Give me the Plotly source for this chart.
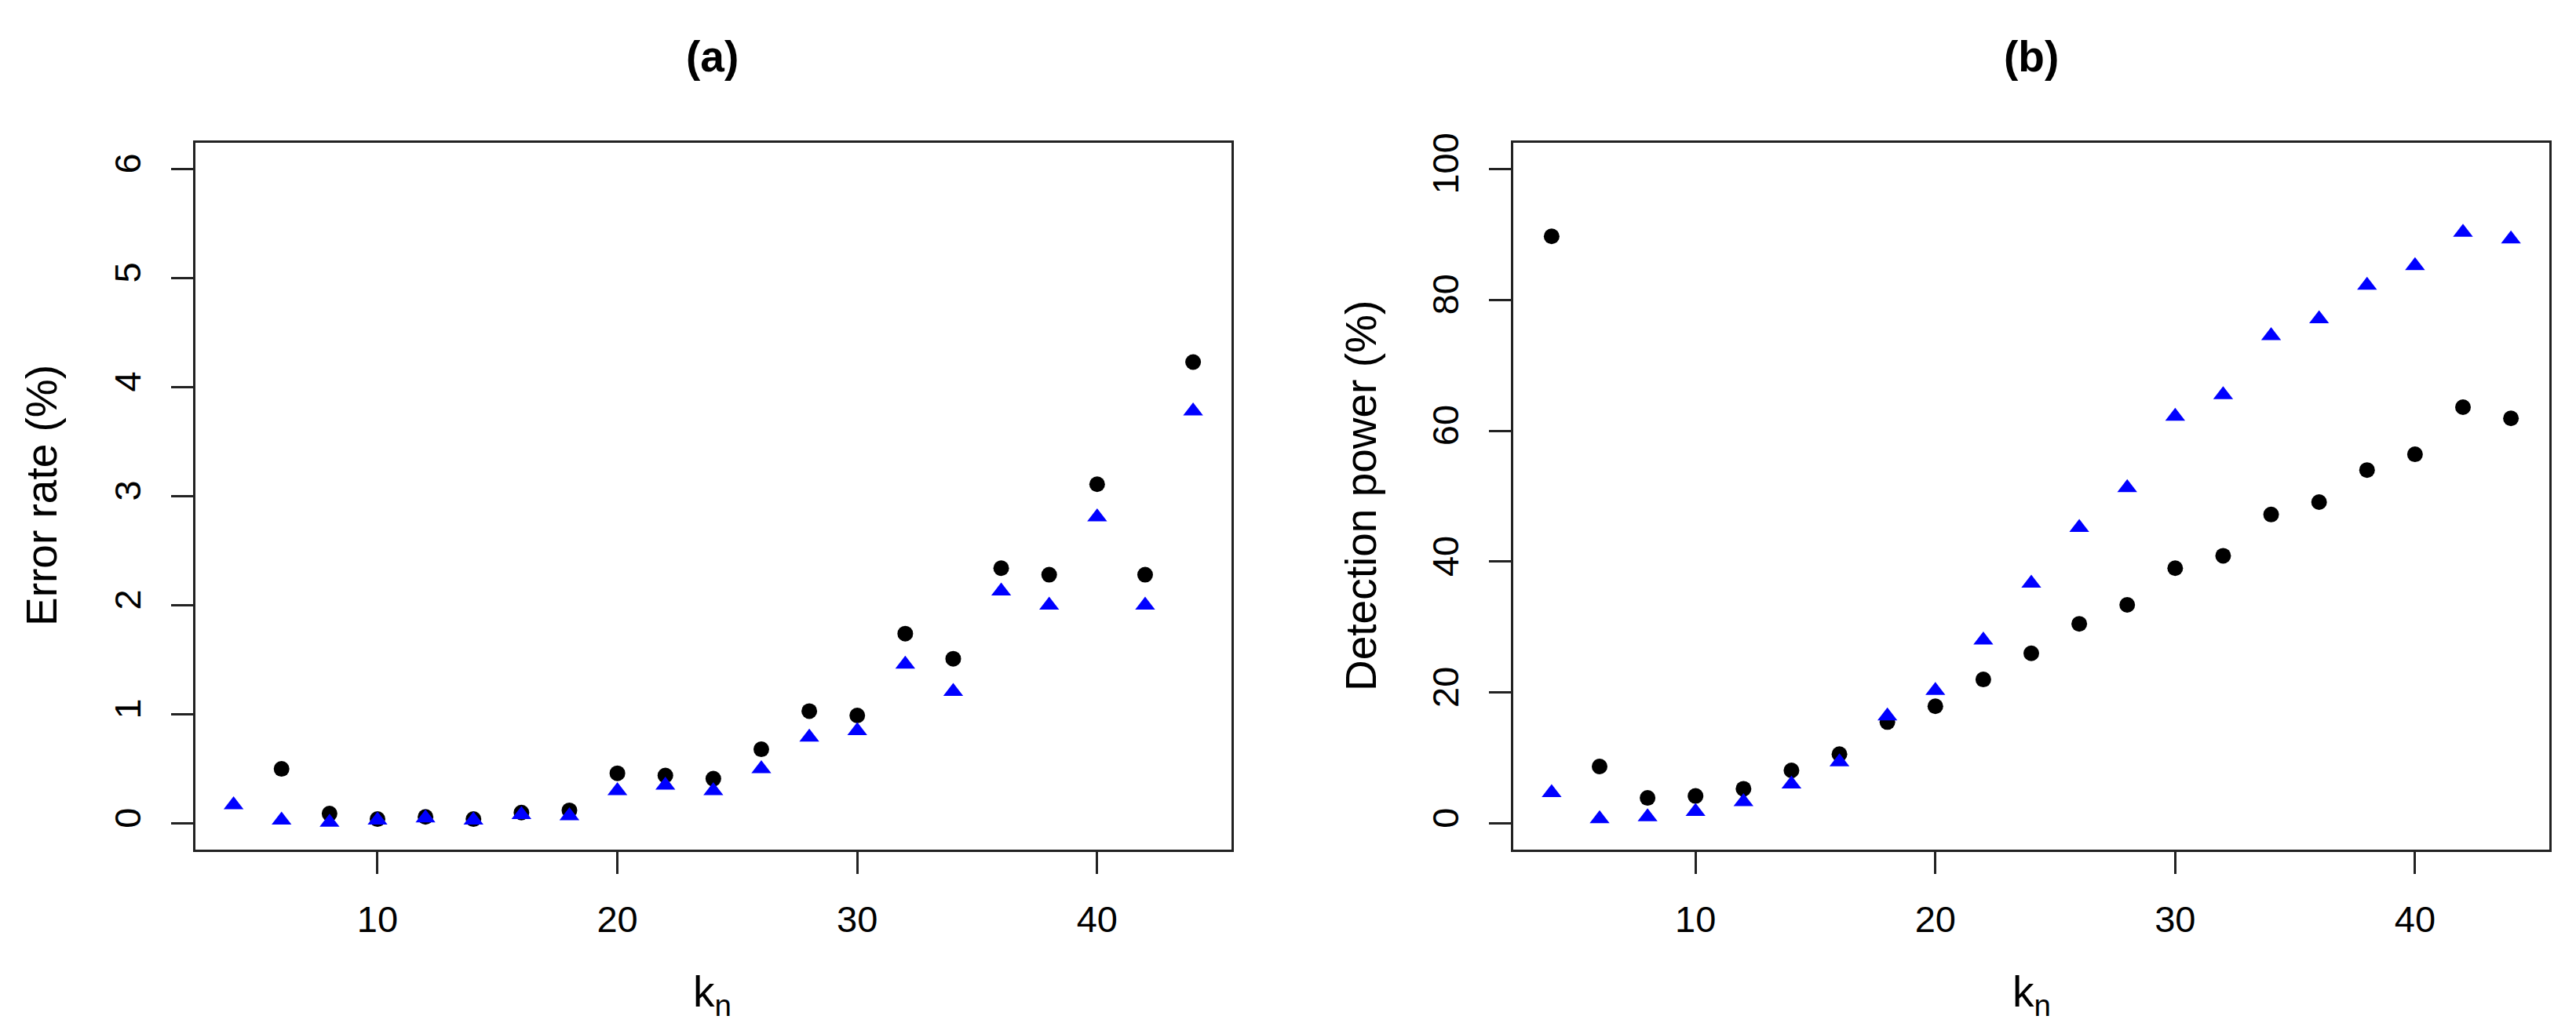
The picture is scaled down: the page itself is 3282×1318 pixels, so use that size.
import plotly.graph_objects as go

k_n = [4, 6, 8, 10, 12, 14, 16, 18, 20, 22, 24, 26, 28, 30, 32, 34, 36, 38, 40, 42, 44]

# Panel (a): error rate (%)  (circle at k=4 is not visible in the reference)
err_circle = [None, 0.50, 0.09, 0.04, 0.06, 0.04, 0.10, 0.12, 0.46, 0.44, 0.41,
              0.68, 1.03, 0.99, 1.74, 1.51, 2.34, 2.28, 3.11, 2.28, 4.23]
err_triangle = [0.17, 0.03, 0.01, 0.03, 0.05, 0.03, 0.08, 0.07, 0.30, 0.35, 0.30,
                0.50, 0.79, 0.85, 1.46, 1.21, 2.13, 2.00, 2.81, 2.00, 3.78]

# Panel (b): detection power (%)
pow_circle = [89.7, 8.7, 3.9, 4.2, 5.3, 8.1, 10.6, 15.5, 17.9, 22.0, 26.0,
              30.5, 33.4, 39.0, 40.9, 47.2, 49.1, 54.0, 56.4, 63.6, 61.9]
pow_triangle = [4.7, 0.7, 1.0, 1.8, 3.3, 6.0, 9.4, 16.4, 20.3, 28.0, 36.7,
                45.2, 51.3, 62.2, 65.5, 74.5, 77.1, 82.2, 85.2, 90.3, 89.3]

x_ticks = [10, 20, 30, 40]
err_ticks = [0, 1, 2, 3, 4, 5, 6]
pow_ticks = [0, 20, 40, 60, 80, 100]

W, H = 3282, 1318
FONT = "Liberation Sans, Arial, Helvetica, sans-serif"

fig = go.Figure()

def add_panel(xref, yref, circ, tri):
    fig.add_trace(go.Scatter(x=k_n, y=circ, mode="markers", xaxis=xref, yaxis=yref,
                             marker=dict(symbol="circle", size=20, color="black",
                                         line=dict(width=0)), showlegend=False))
    fig.add_trace(go.Scatter(x=k_n, y=tri, mode="markers", xaxis=xref, yaxis=yref,
                             marker=dict(symbol="triangle-up", size=22, color="#0000ff",
                                         line=dict(width=0)), showlegend=False))

add_panel("x", "y", err_circle, err_triangle)
add_panel("x2", "y2", pow_circle, pow_triangle)

ydom = [1 - 1075 / H, 1 - 174 / H]
ax_common = dict(showline=True, linecolor="#222222", linewidth=3, mirror=True,
                 ticks="outside", ticklen=28, tickwidth=2.5, tickcolor="#222222",
                 showgrid=False, zeroline=False, automargin=False,
                 tickfont=dict(family=FONT, size=47, color="black"))

fig.update_layout(
    width=W, height=H, margin=dict(l=0, r=0, t=0, b=0),
    paper_bgcolor="white", plot_bgcolor="white",
    xaxis=dict(domain=[240.7 / W, 1561 / W], range=[2.4, 45.6], tickvals=x_ticks,
               anchor="y", ticklabelstandoff=18, **ax_common),
    yaxis=dict(domain=ydom, range=[-0.24, 6.24], tickvals=err_ticks, tickangle=-90,
               anchor="x", ticklabelstandoff=20, **ax_common),
    xaxis2=dict(domain=[1920 / W, 3240 / W], range=[2.4, 45.6], tickvals=x_ticks,
                anchor="y2", ticklabelstandoff=18, **ax_common),
    yaxis2=dict(domain=ydom, range=[-4, 104], tickvals=pow_ticks, tickangle=-90,
                anchor="x2", ticklabelstandoff=20, **ax_common),
)

lab_font = dict(family=FONT, size=55, color="black")
title_font = dict(family=FONT, size=55, color="black")

for txt, cx in (("<b>(a)</b>", 900), ("<b>(b)</b>", 2580)):
    fig.add_annotation(text=txt, x=cx / W, y=1 - 64 / H, xref="paper", yref="paper",
                       showarrow=False, xanchor="center", yanchor="middle", font=title_font)

for cx in (900, 2580):
    fig.add_annotation(text="k<sub>n</sub>", x=cx / W, y=1 - 1260 / H, xref="paper", yref="paper",
                       showarrow=False, xanchor="center", yanchor="middle", font=lab_font)

fig.add_annotation(text="Error rate (%)", x=45 / W, y=1 - 624 / H, xref="paper", yref="paper",
                   showarrow=False, textangle=-90, xanchor="center", yanchor="middle", font=lab_font)
fig.add_annotation(text="Detection power (%)", x=1726 / W, y=1 - 624 / H, xref="paper", yref="paper",
                   showarrow=False, textangle=-90, xanchor="center", yanchor="middle", font=lab_font)

fig.write_html("out.html")
